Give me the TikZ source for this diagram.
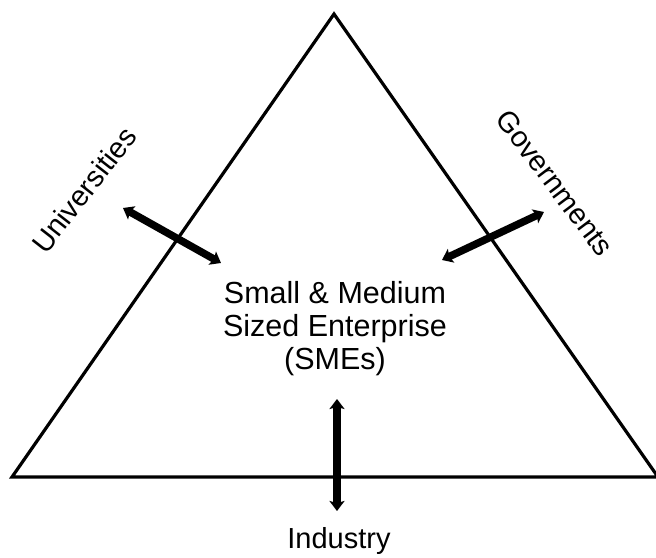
\documentclass[tikz,border=0pt]{standalone}
\usepackage{fontspec}
\setmainfont{Liberation Sans}
\usetikzlibrary{arrows.meta}
\begin{document}
\begin{tikzpicture}[x=1pt,y=-1pt,
  edge/.style={line width=3.2pt,line join=miter},
  link/.style={line width=7.5pt,{Stealth[width=15pt,length=10pt,inset=2pt]}-{Stealth[width=15pt,length=10pt,inset=2pt]}},
  lbl/.style={font=\fontsize{29}{33}\selectfont,inner sep=0pt}]
  \useasboundingbox (0,0) rectangle (656,557);
  % triangle corners
  \coordinate (top) at (334,14);
  \coordinate (bl) at (12,477);
  \coordinate (br) at (658,477);
  \draw[edge] (top) -- (bl) -- (br) -- cycle;
  % labels
  \node[lbl,align=center,font=\fontsize{30.5}{33}\selectfont] (sme) at (335,329) {Small \& Medium\\Sized Enterprise\\(SMEs)};
  \node[lbl,rotate=52] (uni) at (84,190) {Universities};
  \node[lbl,rotate=-53] (gov) at (555,183) {Governments};
  \node[lbl,anchor=base] (ind) at (339,548) {Industry};
  % arrow ends
  \coordinate (u1) at (123,208);
  \coordinate (u2) at (221,263);
  \coordinate (g1) at (442,260);
  \coordinate (g2) at (544,212);
  \coordinate (i1) at (337,399);
  \coordinate (i2) at (337,511);
  \draw[link] (u1) -- (u2);
  \draw[link] (g1) -- (g2);
  \draw[link] (i1) -- (i2);
\end{tikzpicture}
\end{document}
